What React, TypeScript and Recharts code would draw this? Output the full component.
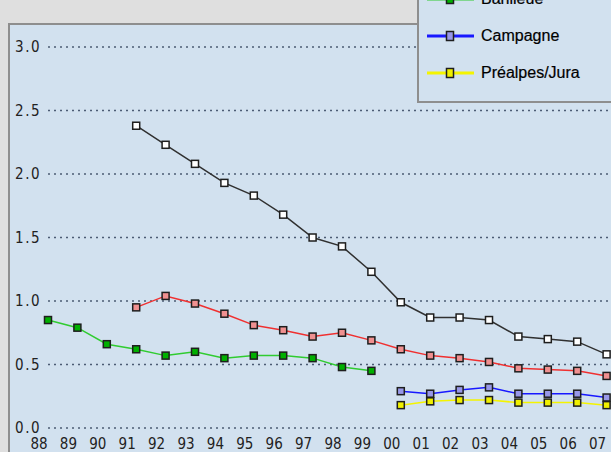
import React from 'react';
import { LineChart, Line, XAxis, YAxis, CartesianGrid, Legend } from 'recharts';

const years = [88, 89, 90, 91, 92, 93, 94, 95, 96, 97, 98, 99, 100, 101, 102, 103, 104, 105, 106, 107];
const yTicks = [0, 0.5, 1.0, 1.5, 2.0, 2.5, 3.0];

// values by series, first year noted beside each
const villes = [2.38, 2.23, 2.08, 1.93, 1.83, 1.68, 1.5, 1.43, 1.23, 0.99, 0.87, 0.87, 0.85, 0.72, 0.7, 0.68, 0.58]; // from 91
const agglomerations = [0.95, 1.04, 0.98, 0.9, 0.81, 0.77, 0.72, 0.75, 0.69, 0.62, 0.57, 0.55, 0.52, 0.47, 0.46, 0.45, 0.41]; // from 91
const banlieue = [0.85, 0.79, 0.66, 0.62, 0.57, 0.6, 0.55, 0.57, 0.57, 0.55, 0.48, 0.45]; // from 88
const campagne = [0.29, 0.27, 0.3, 0.32, 0.27, 0.27, 0.27, 0.24]; // from 00
const prealpes = [0.18, 0.21, 0.22, 0.22, 0.2, 0.2, 0.2, 0.18]; // from 00

const series = [
    { key: 'villes', name: 'Villes', start: 91, values: villes, line: '#303030', fill: '#ffffff' },
    { key: 'agglo', name: 'Agglomérations', start: 91, values: agglomerations, line: '#f03030', fill: '#f09090' },
    { key: 'banlieue', name: 'Banlieue', start: 88, values: banlieue, line: '#30cc30', fill: '#00b000' },
    { key: 'campagne', name: 'Campagne', start: 100, values: campagne, line: '#1818ff', fill: '#9898e8' },
    { key: 'prealpes', name: 'Préalpes/Jura', start: 100, values: prealpes, line: '#f4f400', fill: '#f0f000' },
];

const data = years.map((year) => {
    const row: Record<string, number | null> = { year };
    series.forEach((s) => {
        const i = year - s.start;
        row[s.key] = i >= 0 && i < s.values.length ? s.values[i] : null;
    });
    return row;
});

const PANEL = '#d2e1ef';

const makeDot = (fill: string) => (props: any) => {
    const { cx, cy, value, index } = props;
    if (value == null || cx == null || cy == null) return <g key={index} />;
    return <rect key={index} x={cx - 3.5} y={cy - 3.5} width={7} height={7} fill={fill} stroke="#1e1e1e" strokeWidth={1.5} />;
};

const LegendBox = () => (
    <div style={{ background: PANEL, border: '2px solid #8e8e8e', padding: '10px 0 10px 8px', width: 230 }}>
        {series.map((s) => (
            <div key={s.key} style={{ height: 37, display: 'flex', alignItems: 'center' }}>
                <svg width={48} height={12} style={{ marginRight: 6 }}>
                    <line x1={0} y1={6} x2={47} y2={6} stroke={s.line} strokeWidth={3} />
                    <rect x={19.5} y={1.5} width={7} height={9} fill={s.fill} stroke="#1e1e1e" strokeWidth={1.5} />
                </svg>
                <span style={{ fontFamily: '"Liberation Sans", Arial, sans-serif', fontSize: 16, color: '#000', WebkitTextStroke: '0.2px #000' }}>{s.name}</span>
            </div>
        ))}
    </div>
);

const tickFont = '"Liberation Sans Narrow", "DejaVu Sans Condensed", sans-serif';

export default function App() {
    return (
        <div style={{ position: 'absolute', left: 0, top: 0, width: 611, height: 452, overflow: 'hidden', background: '#dfdfdf' }}>
            <div style={{ position: 'absolute', left: 8, top: 23, width: 700, height: 500, border: '2px solid #8e8e8e', background: PANEL }}>
                <LineChart width={626} height={440} data={data} margin={{ top: 22, right: 0, bottom: 7, left: 0 }}>
                    <CartesianGrid vertical={false} stroke="#4c5c74" strokeDasharray="2 4" strokeWidth={1.5} />
                    <XAxis
                        dataKey="year"
                        type="number"
                        domain={[88, 108]}
                        ticks={years}
                        interval={0}
                        height={30}
                        axisLine={false}
                        tickLine={false}
                        tickSize={0}
                        tickMargin={10}
                        tickFormatter={(v: number) => String(v % 100).padStart(2, '0')}
                        tick={{ fontSize: 15, fill: '#222', fontFamily: tickFont, dx: -9 }}
                    />
                    <YAxis
                        domain={[0, 3]}
                        ticks={yTicks}
                        width={38}
                        axisLine={false}
                        tickLine={false}
                        tickSize={0}
                        tickMargin={7}
                        tickFormatter={(v: number) => v.toFixed(1)}
                        tick={{ fontSize: 15, fill: '#222', fontFamily: tickFont, letterSpacing: 1.5 }}
                    />
                    <Legend
                        layout="vertical"
                        align="center"
                        verticalAlign="middle"
                        content={() => <LegendBox />}
                        wrapperStyle={{ left: 407, top: -131, width: 260 }}
                    />
                    {series.map((s) => (
                        <Line
                            key={s.key}
                            dataKey={s.key}
                            name={s.name}
                            stroke={s.line}
                            strokeWidth={1.5}
                            dot={makeDot(s.fill)}
                            activeDot={false}
                            isAnimationActive={false}
                            connectNulls={false}
                        />
                    ))}
                </LineChart>
            </div>
        </div>
    );
}
